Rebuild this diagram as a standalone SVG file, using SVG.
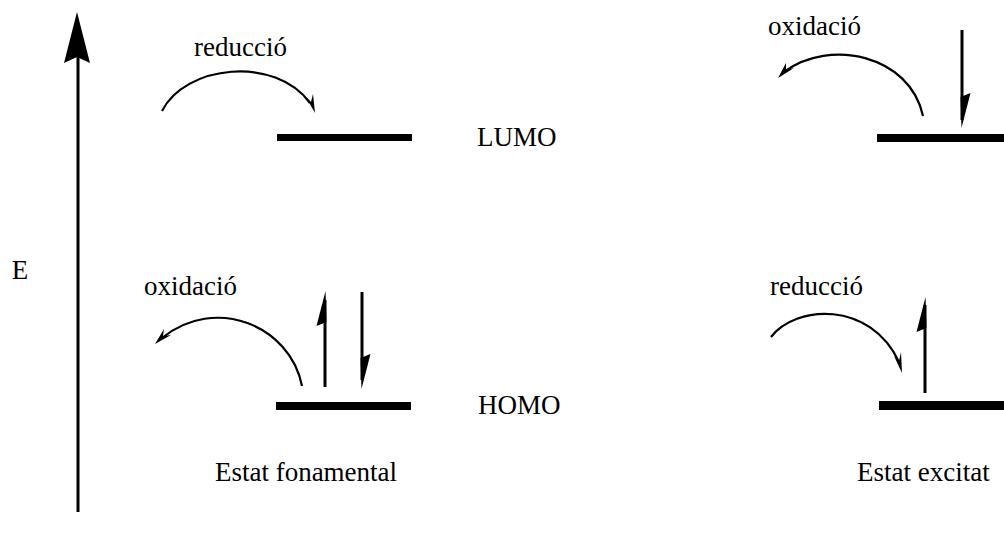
<svg xmlns="http://www.w3.org/2000/svg" width="1004" height="542" viewBox="0 0 1004 542">
  <style>
    .lbl { font-family: "Liberation Serif", "Times New Roman", serif; font-size: 27px; fill: #000; }
    .level { fill: #000; }
    .arc { fill: none; stroke: #000; stroke-width: 2.2; }
    .spin { stroke: #000; stroke-width: 3; }
    .head { fill: #000; stroke: none; }
  </style>

  <!-- energy axis -->
  <g id="axis">
    <line x1="78" y1="512" x2="78" y2="55" stroke="#000" stroke-width="3"/>
    <polygon class="head" points="77,12 90,63 77,57 64,63"/>
    <text class="lbl" x="20" y="279" text-anchor="middle">E</text>
  </g>

  <!-- ground state -->
  <g id="ground-lumo">
    <rect class="level" x="277" y="134" width="135" height="7"/>
    <text class="lbl" x="477" y="146">LUMO</text>
  </g>
  <g id="ground-homo">
    <rect class="level" x="276" y="402" width="135" height="8"/>
    <text class="lbl" x="478" y="414">HOMO</text>
  </g>
  <g id="ground-title">
    <text class="lbl" x="306" y="481" text-anchor="middle">Estat fonamental</text>
  </g>

  <!-- excited state -->
  <g id="excited-lumo">
    <rect class="level" x="877" y="134" width="127" height="8"/>
  </g>
  <g id="excited-homo">
    <rect class="level" x="879" y="401" width="125" height="9"/>
  </g>
  <g id="excited-title">
    <text class="lbl" x="857" y="481">Estat excitat</text>
  </g>

  <!-- electron spins and redox arrows -->
  <g id="connectors">
    <!-- ground state: reduction into LUMO -->
    <text class="lbl" x="194" y="56">reducció</text>
    <path class="arc" d="M162,111 C185,65 275,55 310,103"/>
    <polygon class="head" points="315,113 306,97 311,102 313,94"/>

    <!-- ground state: oxidation from HOMO -->
    <text class="lbl" x="144" y="295">oxidació</text>
    <path class="arc" d="M302,386 C290,325 215,295 162,338"/>
    <polygon class="head" points="155,344 164,329 163,336 171,335"/>

    <!-- ground state HOMO electron pair -->
    <line class="spin" x1="325" y1="387" x2="325" y2="300"/>
    <polygon class="head" points="325.5,291 326.5,322 316.5,326"/>
    <line class="spin" x1="362" y1="292" x2="362" y2="380"/>
    <polygon class="head" points="361.5,389 360.5,358 370.5,354"/>

    <!-- excited state: oxidation from LUMO -->
    <text class="lbl" x="768" y="35">oxidació</text>
    <path class="arc" d="M923,116 C910,55 830,38 784,72"/>
    <polygon class="head" points="778,78 786,63 786,70 794,68"/>
    <line class="spin" x1="962" y1="30" x2="962" y2="120"/>
    <polygon class="head" points="961.5,128 960.5,97 970.5,93"/>

    <!-- excited state: reduction into HOMO -->
    <text class="lbl" x="770" y="295">reducció</text>
    <path class="arc" d="M771,337 C795,305 870,300 899,362"/>
    <polygon class="head" points="902,373 894,356 899,361 901,352"/>
    <line class="spin" x1="925" y1="393" x2="925" y2="305"/>
    <polygon class="head" points="925.5,297 926.5,328 916.5,332"/>
  </g>
</svg>
